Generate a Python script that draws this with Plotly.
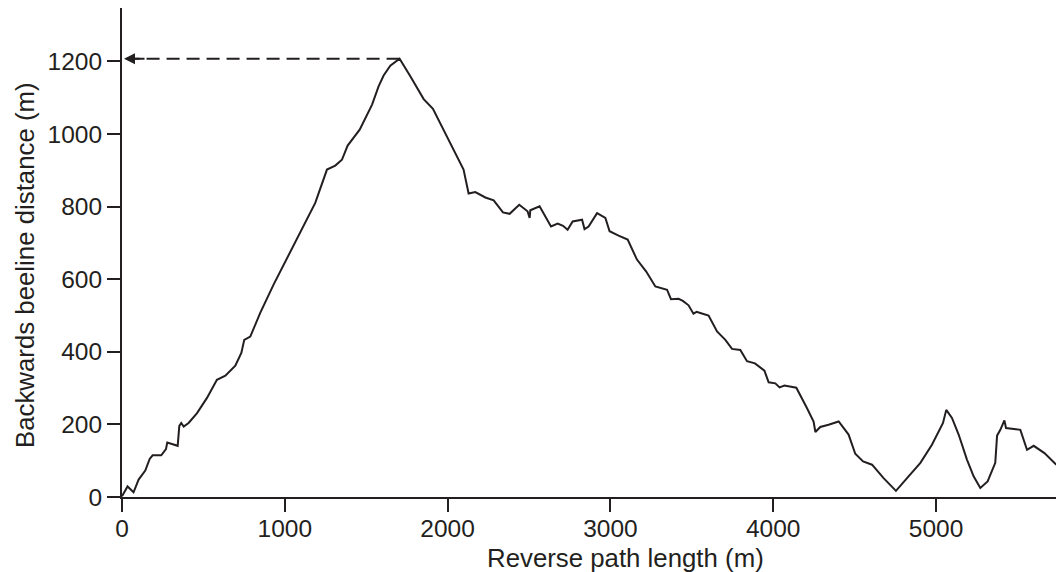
import plotly.graph_objects as go

# Reverse path length (m) and the matching backwards beeline distance (m)
path_length = [
    0, 34, 71, 102, 143, 170, 188, 241, 270, 278, 342, 352, 364, 379, 409,
    461, 522, 583, 635, 696, 733, 751, 788, 849, 931, 1013, 1075, 1187, 1259,
    1310, 1351, 1386, 1460, 1536, 1576, 1607, 1648, 1705, 1771, 1853, 1910,
    1975, 2037, 2098, 2129, 2170, 2232, 2283, 2340, 2381, 2440, 2491, 2504,
    2508, 2565, 2635, 2676, 2709, 2737, 2768, 2826, 2841, 2866, 2918, 2969,
    2995, 3050, 3106, 3163, 3220, 3276, 3348, 3372, 3419, 3445, 3480, 3510,
    3530, 3552, 3603, 3655, 3706, 3747, 3798, 3839, 3888, 3946, 3972, 4013,
    4039, 4069, 4142, 4207, 4248, 4259, 4289, 4340, 4402, 4463, 4504, 4552,
    4607, 4678, 4754, 4822, 4904, 4975, 5043, 5063, 5098, 5139, 5190, 5231,
    5272, 5317, 5364, 5375, 5395, 5420, 5430, 5518, 5559, 5600, 5666, 5739,
]
beeline = [
    2, 29, 13, 48, 73, 105, 115, 115, 132, 150, 141, 196, 204, 194, 204,
    231, 273, 323, 334, 362, 397, 433, 442, 507, 585, 658, 711, 810, 902,
    913, 929, 968, 1012, 1081, 1131, 1161, 1188, 1207, 1159, 1096, 1069,
    1012, 957, 902, 836, 840, 825, 817, 784, 780, 805, 787, 769,
    790, 801, 745, 753, 747, 736, 759, 764, 738, 745, 782, 769,
    732, 720, 709, 654, 621, 580, 571, 545, 546, 540, 528, 505,
    510, 507, 500, 456, 433, 408, 405, 374, 368, 348, 316, 313,
    302, 307, 301, 245, 208, 179, 193, 199, 208, 172, 119, 98,
    89, 52, 17, 52, 94, 144, 204, 240, 218, 172, 103, 57,
    25, 43, 94, 169, 185, 211, 190, 185, 130, 141, 121, 89,
]

x_ticks = [0, 1000, 2000, 3000, 4000, 5000]
y_ticks = [0, 200, 400, 600, 800, 1000, 1200]

INK = "#231f20"
FONT = "Liberation Sans, Arial, Helvetica, sans-serif"

# Furthest point from the start: projected back onto the y axis
peak_i = max(range(len(beeline)), key=lambda i: beeline[i])
peak_x, peak_y = path_length[peak_i], beeline[peak_i]

fig = go.Figure()

fig.add_trace(go.Scatter(
    x=[peak_x, 0], y=[peak_y, peak_y], mode="lines",
    line=dict(color=INK, width=2, dash="13px,7px"),
    hoverinfo="skip", showlegend=False,
))

fig.add_trace(go.Scatter(
    x=path_length, y=beeline, mode="lines",
    line=dict(color=INK, width=2),
    showlegend=False,
))

fig.add_annotation(
    x=0, y=peak_y, xref="x", yref="y",
    ax=24, ay=0, axref="pixel", ayref="pixel",
    showarrow=True, arrowhead=2, arrowsize=1.1, arrowwidth=2,
    arrowcolor=INK, text="", standoff=2,
)

fig.add_annotation(
    text="Reverse path length (m)", xref="paper", yref="paper",
    x=(625 - 122) / (1056 - 122), y=-(558 - 497) / (497 - 8),
    xanchor="center", yanchor="middle",
    showarrow=False, font=dict(size=25.8, color=INK, family=FONT),
)
fig.add_annotation(
    text="Backwards beeline distance (m)", xref="paper", yref="paper",
    x=-(122 - 25) / (1056 - 122), y=(497 - 265) / (497 - 8),
    xanchor="center", yanchor="middle",
    textangle=-90, showarrow=False, font=dict(size=25.8, color=INK, family=FONT),
)

axis_common = dict(
    showgrid=False, zeroline=False, showline=True, linecolor=INK, linewidth=2,
    ticks="outside", ticklen=13, tickwidth=2, tickcolor=INK,
    tickfont=dict(size=24.5, color=INK, family=FONT),
)

fig.update_layout(
    width=1056, height=572,
    margin=dict(l=122, r=0, t=8, b=75),
    paper_bgcolor="white", plot_bgcolor="white",
    font=dict(family=FONT, color=INK),
    xaxis=dict(range=[0, 5737], tickvals=x_ticks, ticklabelstandoff=-4,
               **axis_common),
    yaxis=dict(range=[0, 1347], tickvals=y_ticks, **axis_common),
)

fig.write_html("out.html")
